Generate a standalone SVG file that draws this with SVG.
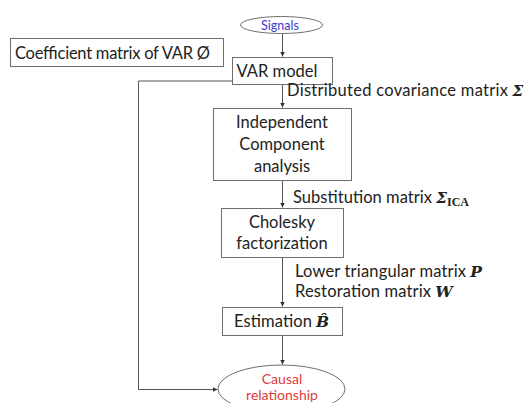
<svg xmlns="http://www.w3.org/2000/svg" width="525" height="403" viewBox="0 0 525 403">
<style>
.box{fill:#fff;stroke:#6e6e6e;stroke-width:1}
.t{font-family:Lato,"Liberation Sans",sans-serif;font-size:16.5px;fill:#222}
.c{text-anchor:middle}
.m{font-family:"DejaVu Serif","Liberation Serif",serif;font-weight:bold;font-style:italic;font-size:15.5px}
.sub{font-family:"Liberation Serif",serif;font-weight:bold;font-style:normal;font-size:12px}
.ln{fill:none;stroke:#555;stroke-width:1}
.red{fill:#e03a3a;font-size:14px}
</style>
<defs>
<marker id="ah" markerWidth="6" markerHeight="6" refX="5" refY="3" orient="auto" markerUnits="userSpaceOnUse">
<path d="M0,0.5 L5,3 L0,5.5 Z" fill="#333"/>
</marker>
</defs>
<rect width="525" height="403" fill="#fff"/>
<g id="connectors">
<path class="ln" d="M282.5,33 V56.5" marker-end="url(#ah)"/>
<path class="ln" d="M282.5,84 V107.5" marker-end="url(#ah)"/>
<path class="ln" d="M282.5,180 V207.5" marker-end="url(#ah)"/>
<path class="ln" d="M282.5,257 V306.5" marker-end="url(#ah)"/>
<path class="ln" d="M282.5,335 V364.5" marker-end="url(#ah)"/>
<path class="ln" d="M232,81 H138.5 V389.5 H217.5" marker-end="url(#ah)"/>
</g>
<g id="signals">
<ellipse cx="281.5" cy="25" rx="41" ry="8.5" fill="#fff" stroke="#6e6e6e"/>
<text class="t c" x="280" y="29.5" style="font-size:12.5px;fill:#3a3ad0">Signals</text>
</g>
<g id="coefficient">
<rect class="box" x="10.5" y="38.5" width="213" height="28"/>
<text class="t" x="15" y="59" textLength="195">Coefficient matrix of VAR Ø</text>
</g>
<g id="var">
<rect class="box" x="232.5" y="57.5" width="100" height="27"/>
<text class="t c" x="277" y="77">VAR model</text>
</g>
<g id="label-cov">
<text class="t" x="287" y="96"><tspan textLength="221">Distributed covariance matrix</tspan><tspan class="m" dx="4">Σ</tspan></text>
</g>
<g id="ica">
<rect class="box" x="213.5" y="108.5" width="138" height="72"/>
<text class="t c" x="282" y="128">Independent</text>
<text class="t c" x="282" y="150">Component</text>
<text class="t c" x="282" y="172">analysis</text>
</g>
<g id="label-sub">
<text class="t" x="293" y="202.5"><tspan textLength="139">Substitution matrix</tspan><tspan class="m" dx="4">Σ</tspan><tspan class="sub" dy="3">ICA</tspan></text>
</g>
<g id="cholesky">
<rect class="box" x="221.5" y="208.5" width="122" height="49"/>
<text class="t c" x="282" y="228">Cholesky</text>
<text class="t c" x="282" y="249">factorization</text>
</g>
<g id="label-lower">
<text class="t" x="295" y="277"><tspan textLength="171">Lower triangular matrix</tspan><tspan class="m" dx="4">P</tspan></text>
<text class="t" x="295" y="297"><tspan textLength="136">Restoration matrix</tspan><tspan class="m" dx="4">W</tspan></text>
</g>
<g id="estimation">
<rect class="box" x="222.5" y="307.5" width="120" height="28"/>
<text class="t" x="234" y="327"><tspan textLength="78">Estimation</tspan><tspan class="m" dx="4">B̂</tspan></text>
</g>
<g id="causal">
<ellipse cx="281.5" cy="389" rx="63.5" ry="24" fill="#fff" stroke="#6e6e6e"/>
<text class="t c red" x="282" y="384">Causal</text>
<text class="t c red" x="282" y="399.5">relationship</text>
</g>
</svg>
